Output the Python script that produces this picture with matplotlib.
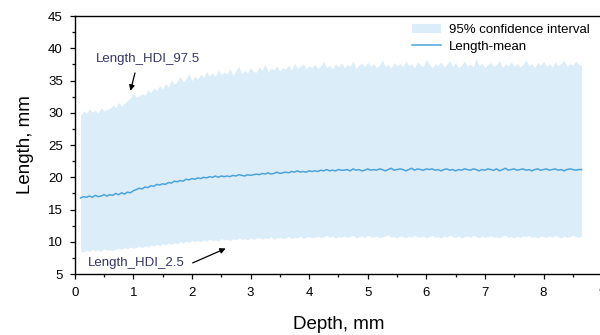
import numpy as np
import matplotlib
matplotlib.use('Agg')
from matplotlib import pyplot as plt
from matplotlib.ticker import MultipleLocator

plt.rcParams['font.family'] = ['Liberation Sans', 'DejaVu Sans']

# depth samples, mm
depth = np.linspace(0.10, 8.65, 172)

# upper bound of 95% interval (Length_HDI_97.5)
hdi_97 = [
    29.6, 30.3, 29.9, 30.6, 30.1, 30.4, 30.0, 30.8, 30.3, 30.5,
    30.7, 31.2, 30.8, 31.6, 31.0, 31.5, 31.9, 32.3, 33.1, 32.4,
    32.6, 33.0, 32.7, 33.6, 33.1, 33.9, 33.4, 34.2, 33.7, 34.5,
    34.0, 35.1, 34.4, 34.9, 35.6, 34.8, 35.3, 36.1, 35.0, 35.7,
    35.2, 36.0, 35.5, 36.4, 35.7, 36.2, 35.6, 36.7, 35.9, 36.3,
    36.0, 36.8, 35.8, 36.5, 37.2, 36.1, 36.6, 36.2, 37.0, 36.4,
    36.3, 37.1, 36.6, 37.5, 36.4, 36.9, 36.7, 37.3, 36.5, 37.0,
    36.8, 37.4, 36.6, 37.7, 36.9, 37.2, 37.6, 36.8, 37.3, 37.0,
    37.5, 36.9, 37.3, 38.0, 37.0, 37.4, 36.8, 37.6, 37.1, 37.8,
    37.0, 37.5, 37.2, 38.1, 36.9, 37.4, 37.7, 37.1, 37.9, 37.2,
    37.6, 37.0, 37.4, 38.2, 37.1, 37.5, 36.9, 37.8, 37.3, 37.6,
    37.1, 38.0, 37.3, 37.6, 37.0, 37.9, 37.4, 37.2, 38.3, 37.5,
    37.0, 37.6, 37.3, 37.9, 37.1, 37.5, 38.1, 37.2, 37.7, 37.0,
    37.4, 38.0, 37.2, 37.6, 37.1, 38.4, 37.3, 37.7, 37.0, 37.5,
    37.8, 37.2, 37.5, 38.1, 37.0, 37.6, 37.3, 37.9, 37.2, 37.7,
    37.1, 37.5, 38.2, 37.3, 37.6, 37.0, 37.8, 37.4, 38.0, 37.2,
    37.6, 37.1, 37.9, 37.3, 37.7, 38.1, 37.2, 37.6, 37.4, 38.0,
    37.5, 37.3,
]

# lower bound (Length_HDI_2.5)
hdi_2 = [
    8.6, 8.4, 8.7, 8.5, 8.8, 8.6, 8.7, 8.5, 8.9, 8.7,
    8.8, 8.6, 8.9, 9.0, 8.8, 9.1, 8.9, 9.2, 9.0, 9.1,
    9.3, 9.1, 9.4, 9.2, 9.5, 9.3, 9.6, 9.4, 9.7, 9.5,
    9.8, 9.6, 9.9, 9.7, 10.0, 9.8, 10.1, 9.9, 10.2, 10.0,
    10.2, 10.0, 10.3, 10.1, 10.4, 10.2, 10.3, 10.1, 10.5, 10.3,
    10.4, 10.2, 10.5, 10.3, 10.6, 10.4, 10.5, 10.3, 10.6, 10.4,
    10.5, 10.7, 10.4, 10.6, 10.5, 10.8, 10.4, 10.6, 10.7, 10.5,
    10.6, 10.8, 10.5, 10.7, 10.6, 10.9, 10.5, 10.7, 10.8, 10.6,
    10.7, 10.9, 10.6, 10.8, 11.0, 10.7, 10.9, 10.6, 10.8, 10.7,
    10.9, 10.7, 10.8, 11.0, 10.6, 10.8, 10.9, 10.7, 11.0, 10.8,
    10.7, 10.9, 10.6, 10.8, 10.9, 11.1, 10.7, 10.8, 10.6, 10.9,
    10.8, 10.6, 10.9, 10.7, 11.0, 10.8, 10.7, 10.9, 10.6, 10.8,
    11.0, 10.7, 10.8, 10.6, 10.9, 10.7, 11.0, 10.8, 10.7, 10.9,
    10.6, 10.8, 10.9, 10.7, 11.0, 10.8, 10.6, 10.9, 10.7, 10.8,
    10.9, 10.7, 10.8, 10.6, 10.9, 11.0, 10.7, 10.8, 10.6, 10.9,
    10.7, 10.9, 10.8, 11.0, 10.7, 10.8, 10.6, 10.9, 10.8, 10.7,
    10.9, 10.7, 11.0, 10.8, 10.6, 10.9, 10.7, 10.8, 11.0, 10.8,
    10.7, 10.9,
]

# mean length
length_mean = [
    16.8, 17.0, 16.9, 17.1, 16.9, 17.2, 17.0, 17.1, 17.3, 17.1,
    17.3, 17.2, 17.5, 17.3, 17.6, 17.4, 17.7, 17.6, 17.9, 18.1,
    18.3, 18.2, 18.5, 18.4, 18.7, 18.6, 18.9, 18.8, 19.0, 18.9,
    19.2, 19.1, 19.4, 19.3, 19.5, 19.4, 19.7, 19.6, 19.8, 19.7,
    19.9, 19.8, 20.0, 19.9, 20.1, 20.0, 20.2, 20.0, 20.2, 20.1,
    20.2, 20.1, 20.3, 20.2, 20.4, 20.3, 20.2, 20.4, 20.3, 20.4,
    20.5, 20.4, 20.6, 20.5, 20.7, 20.5, 20.6, 20.8, 20.6, 20.7,
    20.8, 20.7, 20.9, 20.8, 21.0, 20.8, 20.9, 20.8, 21.0, 20.9,
    21.0, 20.9, 21.1, 21.0, 21.2, 21.0, 21.1, 21.0, 21.2, 21.1,
    21.1, 21.2, 21.0, 21.3, 21.1, 21.2, 21.0, 21.1, 21.3, 21.1,
    21.2, 21.1, 21.3, 21.2, 21.0, 21.2, 21.4, 21.1, 21.2, 21.3,
    21.2, 21.0, 21.2, 21.4, 21.1, 21.3, 21.2, 21.1, 21.3, 21.2,
    21.3, 21.1, 21.2, 21.0, 21.2, 21.3, 21.1, 21.2, 21.0, 21.2,
    21.1, 21.3, 21.2, 21.1, 21.3, 21.2, 21.0, 21.2, 21.1, 21.3,
    21.2, 21.1, 21.3, 21.0, 21.2, 21.4, 21.1, 21.2, 21.3, 21.1,
    21.2, 21.3, 21.1, 21.2, 21.0, 21.2, 21.3, 21.1, 21.2, 21.3,
    21.1, 21.2, 21.3, 21.1, 21.2, 21.0, 21.2, 21.3, 21.2, 21.1,
    21.2, 21.2,
]

fig = plt.figure(figsize=(6, 3.35), dpi=100)
ax = fig.add_axes([0.1245, 0.182, 0.879, 0.770])

ax.fill_between(depth, hdi_2, hdi_97, color='#dcedfa', lw=0,
                label='95% confidence interval')
ax.plot(depth, length_mean, color='#4ba3dc', lw=1.1, label='Length-mean')

ax.set_xlim(0, 9)
ax.set_ylim(5, 45)
ax.xaxis.set_major_locator(MultipleLocator(1))
ax.xaxis.set_minor_locator(MultipleLocator(0.5))
ax.yaxis.set_major_locator(MultipleLocator(5))
ax.yaxis.set_minor_locator(MultipleLocator(2.5))
ax.tick_params(which='major', length=3.6, width=0.9, labelsize=9.5)
ax.tick_params(axis='x', which='major', pad=6)
ax.tick_params(axis='y', which='major', pad=5)
ax.tick_params(which='minor', length=2, width=0.9)
for s in ax.spines.values():
    s.set_linewidth(1.0)

ax.set_xlabel('Depth, mm', fontsize=13.5, labelpad=12)
ax.set_ylabel('Length, mm', fontsize=13.5, labelpad=10)

txt_col = '#35356a'
ax.text(1.25, 38.4, 'Length_HDI_97.5', color=txt_col, fontsize=9.5,
        ha='center', va='center')
ax.annotate('', xy=(0.94, 33.0), xytext=(1.04, 36.6),
            arrowprops=dict(arrowstyle='-|>', color='black', lw=0.9,
                            mutation_scale=8))
ax.text(1.055, 6.66, 'Length_HDI_2.5', color=txt_col, fontsize=9.5,
        ha='center', va='center')
ax.annotate('', xy=(2.62, 9.14), xytext=(1.97, 6.55),
            arrowprops=dict(arrowstyle='-|>', color='black', lw=0.9,
                            mutation_scale=8))

ax.legend(loc='upper left', bbox_to_anchor=(0.64, 0.969), frameon=False,
          fontsize=9.5, borderpad=0, borderaxespad=0, handlelength=2.2,
          handletextpad=0.55, labelspacing=0.3)

fig.savefig('out.png', dpi=100)
